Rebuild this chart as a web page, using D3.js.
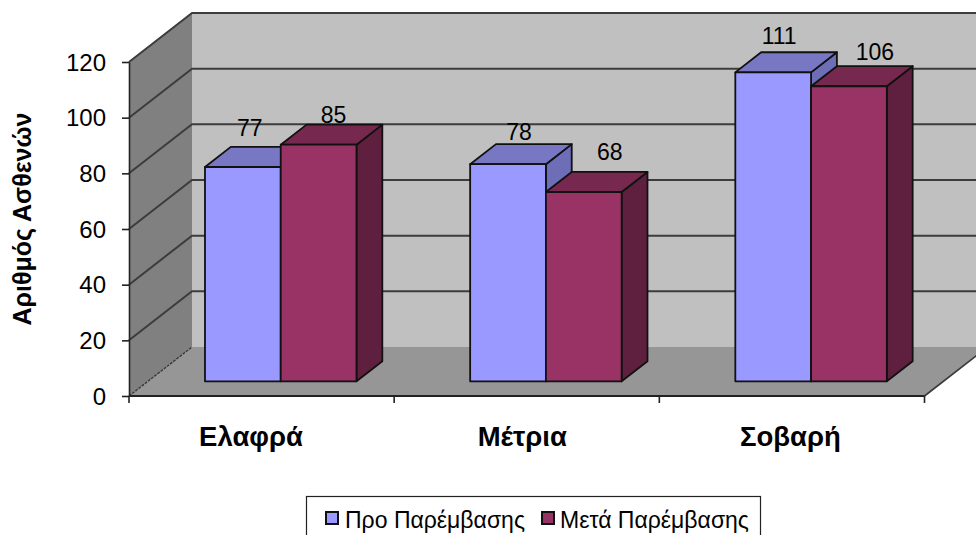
<!DOCTYPE html>
<html>
<head>
<meta charset="utf-8">
<script src="https://cdn.jsdelivr.net/npm/d3@7"></script>
<style>
html,body{margin:0;padding:0;background:#fff;overflow:hidden}
svg{display:block}
text{font-family:"Liberation Sans",Arial,sans-serif;fill:#000}
</style>
</head>
<body>
<svg id="chart" width="976" height="535"></svg>
<script>
const categories = ["Ελαφρά", "Μέτρια", "Σοβαρή"];
const seriesNames = ["Προ Παρέμβασης", "Μετά Παρέμβασης"];
const before = [77, 78, 111];
const after = [85, 68, 106];
const yTicks = [0, 20, 40, 60, 80, 100, 120];
const yTitle = "Αριθμός Ασθενών";

// Hand placement of the value labels, per series and category, relative to the bar's top centre
const labelShift = [
  [[7, -31], [11, -24], [6, -28]],
  [[15, -22], [26, -32], [26, -26]]
];
// Category labels sit a little left of their band centres
const categoryShift = [-10.6, -4.5, -1.6];

const faces = [
  {front: "#9999ff", top: "#7777c4", side: "#6d6db8"},
  {front: "#993366", top: "#77284f", side: "#5f2040"}
];

const depthX = 63, depthY = 49;
const svg = d3.select("#chart");
const x = d3.scaleBand().domain(categories).range([129, 924.5]);
const y = d3.scaleLinear().domain([0, 120]).range([396, 62]);
const backY = v => y(v) - depthY;
const inner = d3.scaleBand().domain([0, 1]).range([0, 151.5]);
const line = d3.line();

// Walls and floor of the 3-D box
const rightX = x.range()[1];
svg.append("path").attr("fill", "#c0c0c0").attr("d",
  line([[129 + depthX, backY(120)], [rightX + depthX, backY(120)], [rightX + depthX, backY(0)], [129 + depthX, backY(0)]]) + "Z");
svg.append("path").attr("fill", "#808080").attr("d",
  line([[129, y(120)], [129 + depthX, backY(120)], [129 + depthX, backY(0)], [129, y(0)]]) + "Z");
svg.append("path").attr("fill", "#969696").attr("d",
  line([[129, y(0)], [129 + depthX, backY(0)], [rightX + depthX, backY(0)], [rightX, y(0)]]) + "Z");

// Gridlines run along the side wall, then across the back wall
svg.append("g").selectAll("path").data(yTicks.filter(t => t > 0)).join("path")
  .attr("fill", "none").attr("stroke", "#3c3c3c").attr("stroke-width", 2)
  .attr("d", t => line([[129, y(t)], [129 + depthX, backY(t)], [rightX + depthX, backY(t)]]));
svg.append("path").attr("fill", "none").attr("stroke", "#3a3a3a").attr("stroke-width", 1.4)
  .attr("stroke-dasharray", "3 1")
  .attr("d", line([[129, y(0)], [129 + depthX, backY(0)]]));
svg.append("path").attr("fill", "none").attr("stroke", "#3a3a3a").attr("stroke-width", 1.6)
  .attr("d", line([[rightX, y(0)], [rightX + depthX, backY(0)]]));

// Axes
const yAxis = d3.axisLeft(y).tickValues(yTicks).tickSize(7).tickPadding(16).tickSizeOuter(0);
const gy = svg.append("g").attr("transform", "translate(129,0)").call(yAxis);
gy.selectAll("text").attr("font-size", 24).attr("dy", "0.34em").style("font-family", '"Liberation Sans",Arial,sans-serif').attr("fill", "#000");
gy.selectAll("line,path").attr("stroke", "#222").attr("stroke-width", 1.6);

const xAxisLine = svg.append("g");
xAxisLine.append("line").attr("x1", 129).attr("x2", rightX).attr("y1", y(0)).attr("y2", y(0))
  .attr("stroke", "#222").attr("stroke-width", 2.2);
xAxisLine.selectAll("line.t").data([...categories.map(c => x(c)), rightX]).join("line")
  .attr("class", "t").attr("x1", d => d).attr("x2", d => d).attr("y1", y(0)).attr("y2", y(0) + 7)
  .attr("stroke", "#222").attr("stroke-width", 1.6);

// Bars sit 30% of the way into the box and take up 41% of its depth
const offX = depthX * 0.3, offY = depthY * 0.3, barDX = depthX * 0.41, barDY = depthY * 0.41;
const series = [before, after];
const bars = [];
categories.forEach((c, ci) => series.forEach((s, si) => bars.push({c, ci, si, v: s[ci]})));

const g = svg.append("g").attr("stroke", "#111").attr("stroke-width", 1.8).attr("stroke-linejoin", "round");
bars.forEach(b => {
  const left = x(b.c) + (x.bandwidth() - 151) / 2 + offX + inner(b.si);
  const right = left + inner.bandwidth();
  const bottom = y(0) - offY;
  const top = bottom - (y(0) - y(b.v));
  const f = faces[b.si];
  g.append("path").attr("fill", f.side).attr("d",
    line([[right, top], [right + barDX, top - barDY], [right + barDX, bottom - barDY], [right, bottom]]) + "Z");
  g.append("path").attr("fill", f.top).attr("d",
    line([[left, top], [left + barDX, top - barDY], [right + barDX, top - barDY], [right, top]]) + "Z");
  g.append("rect").attr("fill", f.front).attr("x", left).attr("y", top)
    .attr("width", right - left).attr("height", bottom - top);
  b.cx = (left + right) / 2;
  b.top = top;
});

// Value labels go above all the bars
svg.append("g").selectAll("text").data(bars).join("text")
  .attr("text-anchor", "middle").attr("font-size", 23)
  .attr("x", b => b.cx + labelShift[b.si][b.ci][0])
  .attr("y", b => b.top + labelShift[b.si][b.ci][1])
  .text(b => b.v);

// Category labels
svg.append("g").selectAll("text").data(categories).join("text")
  .attr("text-anchor", "middle").attr("font-size", 27.5).attr("font-weight", "bold")
  .attr("x", (c, i) => x(c) + x.bandwidth() / 2 + categoryShift[i]).attr("y", 446)
  .text(c => c);

// Axis title
svg.append("text").attr("transform", "translate(31,219) rotate(-90)")
  .attr("text-anchor", "middle").attr("font-size", 25).attr("font-weight", "bold").text(yTitle);

// Legend
const legend = svg.append("g");
legend.append("rect").attr("x", 306.5).attr("y", 496.5).attr("width", 454).attr("height", 50)
  .attr("fill", "#fff").attr("stroke", "#222").attr("stroke-width", 1.2);
const legendX = [326, 542];
seriesNames.forEach((name, i) => {
  legend.append("rect").attr("x", legendX[i]).attr("y", 512).attr("width", 12).attr("height", 12)
    .attr("fill", faces[i].front).attr("stroke", "#111").attr("stroke-width", 2);
  legend.append("text").attr("x", legendX[i] + (i ? 18 : 19)).attr("y", 528).attr("font-size", 23).text(name);
});
</script>
</body>
</html>
